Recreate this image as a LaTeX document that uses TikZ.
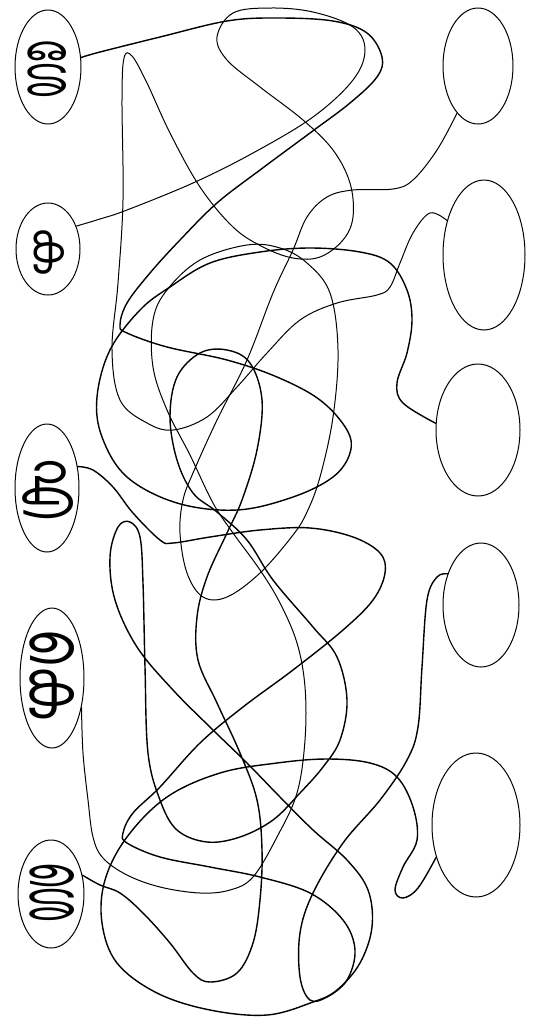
\documentclass[tikz,border=0pt]{standalone}
\usepackage{fontspec}
\newfontfamily\malfont[Script=Malayalam]{Hind Kochi}
\usetikzlibrary{shapes.geometric}
\tikzset{
  oval/.style={draw, ellipse, line width=1pt, inner sep=0pt},
  glyph/.style={font=\malfont, inner sep=0pt, rotate=-90},
  wire/.style={line width=1.4pt, line cap=round, line join=round},
  thinwire/.style={line width=1pt, line cap=round, line join=round},
  tangle/.style={smooth, tension=0.6}
}

\begin{document}
\begin{tikzpicture}[x=1pt, y=-1pt]
\path[use as bounding box, fill=white] (0,0) rectangle (538,1023);

% letters on the left
\node[oval, minimum width=66pt, minimum height=114pt] (l1) at (48,67) {};
\node[oval, minimum width=64pt, minimum height=92pt] (l2) at (48,249) {};
\node[oval, minimum width=64pt, minimum height=128pt] (l3) at (47,488) {};
\node[oval, minimum width=64pt, minimum height=140pt] (l4) at (52,678) {};
\node[oval, minimum width=66pt, minimum height=108pt] (l5) at (51,894) {};

\node[glyph] (g1) at (47,70) {\resizebox{58pt}{38pt}{ശേ}};
\node[glyph] (g2) at (49,253) {\resizebox{48pt}{30pt}{ക}};
\node[glyph] (g3) at (48,490) {\resizebox{62pt}{38pt}{എ}};
\node[glyph] (g4) at (52,676) {\resizebox{90pt}{44pt}{കെ}};
\node[glyph] (g5) at (52,893) {\resizebox{60pt}{44pt}{ശെ}};

% empty ovals on the right
\node[oval, minimum width=70pt, minimum height=116pt] (r1) at (478,66) {};
\node[oval, minimum width=82pt, minimum height=150pt] (r2) at (484,255) {};
\node[oval, minimum width=84pt, minimum height=132pt] (r3) at (478,430) {};
\node[oval, minimum width=76pt, minimum height=124pt] (r4) at (481,605) {};
\node[oval, minimum width=88pt, minimum height=144pt] (r5) at (476,825) {};

% tangled lines
\draw[wire] plot[tangle] coordinates {(l1.16) (100,52) (160,37) (227,21) (277,18) (333,21) (367,33) (382,57) (377,77) (350,103) (310,133) (260,170) (217,203) (180,240) (150,273) (127,303) (120,325) (127,333) (167,347) (227,360) (277,377) (320,400) (347,430) (350,453) (333,477) (293,497) (237,510) (177,503) (127,477) (102,437) (97,397) (110,350) (140,310) (170,287) (210,263) (260,252) (310,248) (360,252) (390,263) (407,290) (412,320) (407,353) (397,383) (403,403) (r3.171)};

\draw[thinwire] plot[tangle] coordinates {(l2.39) (100,219) (127,210) (193,183) (253,153) (313,117) (353,80) (365,50) (353,27) (313,12) (270,8) (233,13) (217,37) (227,60) (260,87) (303,120) (333,150) (350,183) (353,217) (343,240) (320,257) (293,258) (263,247) (233,227) (200,187) (170,133) (147,83) (132,56) (124,58) (122,100) (123,200) (118,283) (112,350) (120,400) (147,423) (173,430) (207,417) (237,387) (267,353) (300,320) (337,303) (377,295) (390,287) (400,263) (413,233) (430,213) (r2.137)};

\draw[wire] plot[tangle] coordinates {(l3.35) (93,470) (113,487) (133,513) (160,540) (173,543) (210,537) (260,530) (310,528) (353,537) (380,553) (385,573) (373,600) (343,630) (293,670) (243,707) (200,743) (160,787) (133,813) (123,833) (127,843) (160,857) (210,867) (260,877) (310,893) (343,920) (355,950) (347,980) (327,997) (310,1000) (300,977) (300,933) (313,893) (343,843) (380,800) (407,760) (418,727) (422,667) (427,600) (437,577) (r4.137)};

\draw[thinwire] plot[tangle] coordinates {(l4.-45) (83,753) (88,800) (93,837) (103,858) (127,875) (160,887) (200,893) (230,890) (253,877) (277,837) (297,793) (305,740) (305,687) (297,643) (280,603) (260,570) (233,533) (213,503) (190,455) (167,410) (153,367) (153,320) (167,290) (200,260) (247,245) (280,248) (307,263) (330,293) (338,350) (333,417) (320,477) (307,512) (293,535) (260,573) (227,597) (203,597) (187,573) (180,533) (183,500) (193,473) (217,420) (247,360) (273,293) (293,250) (307,217) (327,197) (353,190) (393,189) (413,180) (437,150) (r1.246)};

\draw[wire] plot[tangle] coordinates {(l5.31) (100,885) (120,893) (143,913) (170,943) (193,973) (210,982) (237,973) (253,943) (260,900) (262,850) (257,800) (240,753) (217,703) (198,660) (197,617) (207,577) (227,533) (242,500) (257,450) (262,400) (250,363) (227,350) (200,353) (177,377) (170,417) (177,460) (193,493) (217,512) (247,540) (273,580) (313,627) (337,657) (347,700) (340,740) (323,767) (300,793) (273,820) (240,837) (207,842) (177,830) (160,800) (148,753) (145,667) (143,583) (140,537) (130,522) (118,527) (110,557) (115,600) (137,647) (173,690) (213,730) (247,763) (280,797) (313,830) (347,860) (368,890) (372,927) (360,963) (337,990) (313,1002) (267,1015) (210,1010) (157,993) (117,963) (102,923) (105,880) (127,837) (167,797) (220,773) (277,763) (327,759) (370,763) (397,777) (413,807) (417,840) (403,867) (395,890) (403,898) (418,888) (r5.219)};

\end{tikzpicture}
\end{document}
